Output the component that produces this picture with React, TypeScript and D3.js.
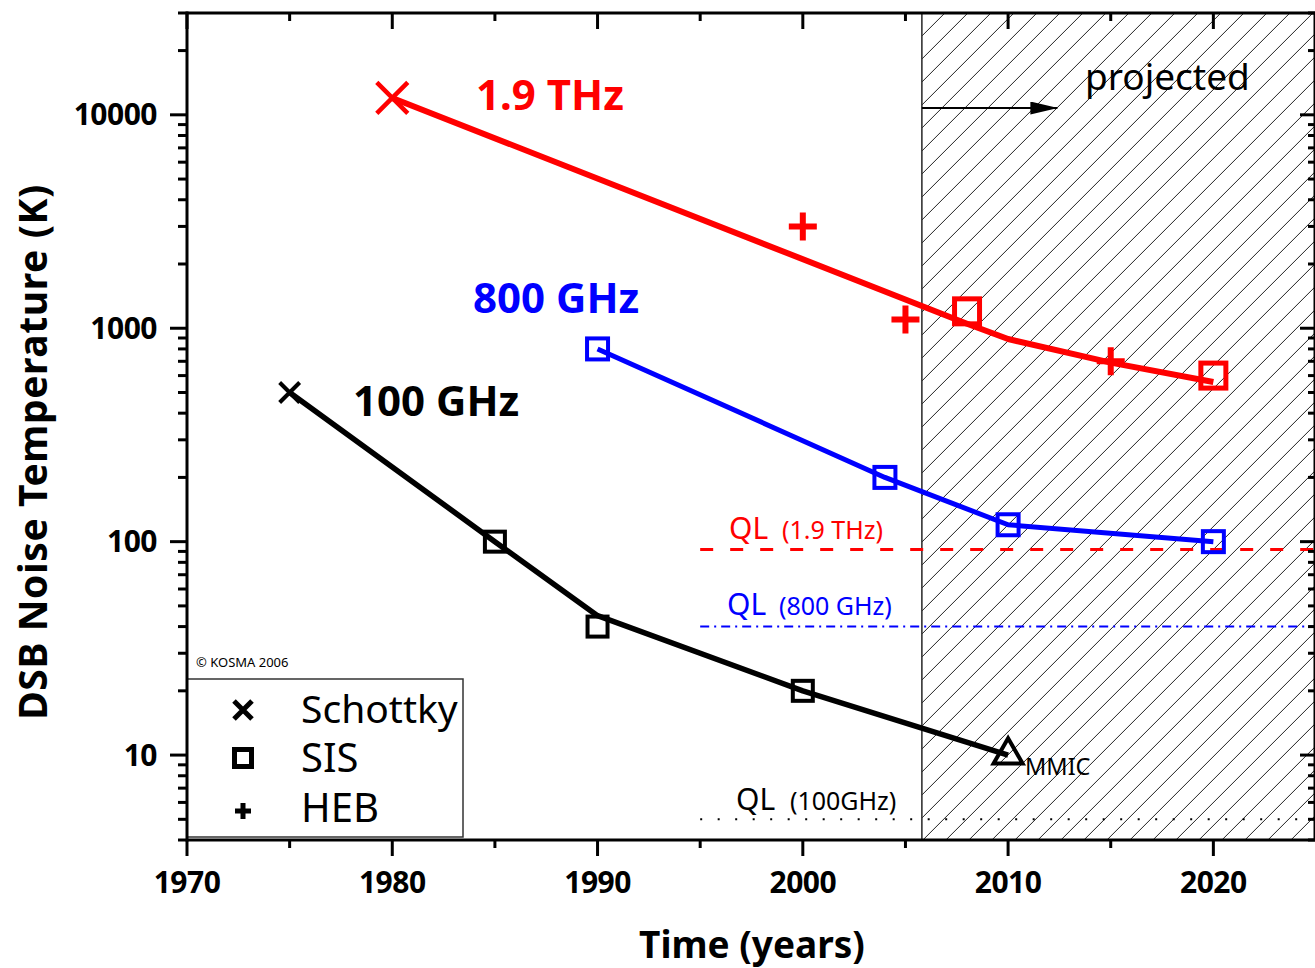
import React from "react";
import * as d3 from "d3";

// ---------- data ----------
const xTickYears = [1970, 1980, 1990, 2000, 2010, 2020];
const xMinorYears = [1975, 1985, 1995, 2005, 2015];
const yTickLabels = [10, 100, 1000, 10000];

// 1.9 THz (red)
const thzLineYears = [1980, 2008, 2010, 2015, 2020];
const thzLineValues = [12000, 1050, 890, 690, 560];
const thzSchottky = [[1980, 12000]];
const thzHEB = [[2000, 3000], [2005, 1100], [2015, 700]];
const thzSIS = [[2008, 1200], [2020, 600]];

// 800 GHz (blue)
const ghz800Years = [1990, 2004, 2010, 2020];
const ghz800Values = [800, 200, 120, 100];

// 100 GHz (black)
const ghz100LineYears = [1975, 1985, 1990, 2000, 2010];
const ghz100LineValues = [500, 100, 45, 20, 10];
const ghz100Schottky = [[1975, 500]];
const ghz100SIS = [[1985, 100], [1990, 40], [2000, 20]];
const ghz100MMIC = [[2010, 10]];

// quantum limits
const qlStartYear = 1995;
const ql19THz = 92;
const ql800GHz = 40;
const ql100GHz = 5;

const projectedYear = 2005.8;

// ---------- layout ----------
const W = 1315;
const H = 968;
const X0 = 187, X1 = 1316, Y0 = 840, Y1 = 13;
const FONT = "'Noto Sans', 'Open Sans', sans-serif";

const x = d3.scaleLinear().domain([1970, 2025]).range([X0, X1]);
const y = d3.scaleLog().domain([4, 30000]).range([Y0, Y1]);

const xPath = (cx: number, cy: number, s: number) =>
  `M${cx - s},${cy - s}L${cx + s},${cy + s}M${cx - s},${cy + s}L${cx + s},${cy - s}`;
const plusPath = (cx: number, cy: number, s: number) =>
  `M${cx - s},${cy}H${cx + s}M${cx},${cy - s}V${cy + s}`;
const triPath = (cx: number, cy: number, s: number) => {
  const h = (s * Math.sqrt(3)) / 2;
  return `M${cx},${cy - (2 * h) / 3}L${cx + s / 2},${cy + h / 3}L${cx - s / 2},${cy + h / 3}Z`;
};

export default function App() {
  const line = d3
    .line<[number, number]>()
    .x((d) => x(d[0]))
    .y((d) => y(d[1]));

  const zip = (a: number[], b: number[]) => a.map((v, i) => [v, b[i]] as [number, number]);

  const yTicks = y.ticks().filter((t) => t >= 4 && t <= 30000);
  const isMajor = (t: number) => Math.abs(Math.log10(t) - Math.round(Math.log10(t))) < 1e-9;

  const xv = x(projectedYear);
  const hatchStep = 23;
  const hatchSpan = Y0 - Y1;
  const hatchStarts = d3.range(xv - hatchSpan, X1 + hatchStep, hatchStep);

  return (
    <svg
      width={W}
      height={H}
      style={{ position: "absolute", left: 0, top: 0, background: "#fff" }}
      fontFamily={FONT}
    >
      <defs>
        <clipPath id="hatchClip">
          <rect x={xv} y={Y1} width={X1 - xv} height={Y0 - Y1} />
        </clipPath>
        <marker id="arrowHead" markerWidth="28" markerHeight="14" refX="27" refY="6.5" orient="auto" markerUnits="userSpaceOnUse">
          <path d="M0,0 L28,6.5 L0,13 Z" fill="#000" />
        </marker>
      </defs>

      <rect x={0} y={0} width={W} height={H} fill="#fff" />

      {/* hatch */}
      <g clipPath="url(#hatchClip)" stroke="#222" strokeWidth={1}>
        {hatchStarts.map((s, i) => (
          <line key={i} x1={s} y1={Y0} x2={s + hatchSpan} y2={Y1} />
        ))}
      </g>
      <line x1={xv} x2={xv} y1={Y1} y2={Y0} stroke="#333" strokeWidth={1.6} />

      {/* projected arrow */}
      <line x1={xv} x2={x(2012.4)} y1={108} y2={108} stroke="#000" strokeWidth={2} markerEnd="url(#arrowHead)" />
      <text x={1085} y={90} fontSize={37} fill="#000">projected</text>

      {/* quantum limit lines */}
      <line x1={x(qlStartYear)} x2={X1} y1={y(ql19THz)} y2={y(ql19THz)} stroke="#ff0000" strokeWidth={3} strokeDasharray="13 17" />
      <line x1={x(qlStartYear)} x2={X1} y1={y(ql800GHz)} y2={y(ql800GHz)} stroke="#0000ff" strokeWidth={2} strokeDasharray="9 5 2 5" />
      <line x1={x(qlStartYear)} x2={X1} y1={y(ql100GHz)} y2={y(ql100GHz)} stroke="#000" strokeWidth={2} strokeDasharray="2 15.5" />

      <text x={729} y={539} fill="#ff0000">
        <tspan fontSize={30}>QL </tspan>
        <tspan fontSize={25} dx={6}>(1.9 THz)</tspan>
      </text>
      <text x={727} y={615} fill="#0000ff">
        <tspan fontSize={30}>QL </tspan>
        <tspan fontSize={25} dx={5}>(800 GHz)</tspan>
      </text>
      <text x={736} y={810} fill="#000">
        <tspan fontSize={30}>QL </tspan>
        <tspan fontSize={25} dx={7}>(100GHz)</tspan>
      </text>

      {/* data lines */}
      <path d={line(zip(thzLineYears, thzLineValues)) || ""} fill="none" stroke="#ff0000" strokeWidth={6} strokeLinejoin="round" />
      <path d={line(zip(ghz800Years, ghz800Values)) || ""} fill="none" stroke="#0000ff" strokeWidth={5} strokeLinejoin="round" />
      <path d={line(zip(ghz100LineYears, ghz100LineValues)) || ""} fill="none" stroke="#000" strokeWidth={5.5} strokeLinejoin="round" />

      {/* markers: red */}
      {thzSchottky.map((d, i) => (
        <path key={"rs" + i} d={xPath(x(d[0]), y(d[1]), 15.5)} stroke="#ff0000" strokeWidth={4.5} fill="none" />
      ))}
      {thzHEB.map((d, i) => (
        <path key={"rh" + i} d={plusPath(x(d[0]), y(d[1]), 14)} stroke="#ff0000" strokeWidth={6} fill="none" />
      ))}
      {thzSIS.map((d, i) => (
        <rect key={"rq" + i} x={x(d[0]) - 12.5} y={y(d[1]) - 12.5} width={25} height={25} stroke="#ff0000" strokeWidth={5} fill="none" />
      ))}
      {/* markers: blue */}
      {ghz800Years.map((yr, i) => (
        <rect key={"bq" + i} x={x(yr) - 10.5} y={y(ghz800Values[i]) - 10.5} width={21} height={21} stroke="#0000ff" strokeWidth={4} fill="none" />
      ))}
      {/* markers: black */}
      {ghz100Schottky.map((d, i) => (
        <path key={"ks" + i} d={xPath(x(d[0]), y(d[1]), 10)} stroke="#000" strokeWidth={4} fill="none" />
      ))}
      {ghz100SIS.map((d, i) => (
        <rect key={"kq" + i} x={x(d[0]) - 10} y={y(d[1]) - 10} width={20} height={20} stroke="#000" strokeWidth={4} fill="none" />
      ))}
      {ghz100MMIC.map((d, i) => (
        <path key={"km" + i} d={triPath(x(d[0]), y(d[1]), 29)} stroke="#000" strokeWidth={4} fill="none" strokeLinejoin="miter" />
      ))}
      <text x={1025} y={775} fontSize={23.5} fill="#000">MMIC</text>

      {/* series labels */}
      <text x={476} y={110} fontSize={42} fontWeight="bold" fill="#ff0000">1.9 THz</text>
      <text x={473} y={313} fontSize={42} fontWeight="bold" fill="#0000ff">800 GHz</text>
      <text x={353} y={416} fontSize={42} fontWeight="bold" fill="#000">100 GHz</text>

      <text x={196} y={667} fontSize={13} fill="#000">© KOSMA 2006</text>

      {/* legend */}
      <rect x={187} y={679} width={276} height={158} fill="#fff" stroke="#333" strokeWidth={1.5} />
      <path d={xPath(243, 710, 9)} stroke="#000" strokeWidth={5} fill="none" />
      <rect x={243 - 8.5} y={758 - 8.5} width={17} height={17} stroke="#000" strokeWidth={5} fill="none" />
      <path d={plusPath(243, 811, 8)} stroke="#000" strokeWidth={5} fill="none" />
      <text x={301} y={723} fontSize={39} fill="#000">Schottky</text>
      <text x={301} y={772} fontSize={40} fill="#000">SIS</text>
      <text x={301} y={822} fontSize={40} fill="#000">HEB</text>

      {/* axes frame */}
      <g stroke="#000" strokeWidth={3}>
        <line x1={X0} x2={X1} y1={Y0} y2={Y0} />
        <line x1={X0} x2={X1} y1={Y1} y2={Y1} />
        <line x1={X0} x2={X0} y1={Y1 - 1.5} y2={Y0 + 1.5} />
        <line x1={X1 - 1} x2={X1 - 1} y1={Y1} y2={Y0} />
      </g>
      {/* x ticks */}
      <g stroke="#000" strokeWidth={3}>
        {xTickYears.map((t) => (
          <g key={"xt" + t}>
            <line x1={x(t)} x2={x(t)} y1={Y0} y2={Y0 + 16} />
            <line x1={x(t)} x2={x(t)} y1={Y1} y2={Y1 + 16} />
          </g>
        ))}
        {xMinorYears.map((t) => (
          <g key={"xm" + t}>
            <line x1={x(t)} x2={x(t)} y1={Y0} y2={Y0 + 8} />
            <line x1={x(t)} x2={x(t)} y1={Y1} y2={Y1 + 8} />
          </g>
        ))}
      </g>
      {xTickYears.map((t) => (
        <text key={"xl" + t} x={x(t)} y={893} fontSize={30} fontWeight="bold" textAnchor="middle" letterSpacing={-0.5}>
          {t}
        </text>
      ))}
      {/* y ticks */}
      <g stroke="#000" strokeWidth={3}>
        {yTicks.map((t, i) => {
          const major = isMajor(t);
          const yy = y(t);
          return (
            <g key={"yt" + i}>
              <line x1={X0 - (major ? 17 : 9)} x2={X0} y1={yy} y2={yy} />
              <line x1={X1 - (major ? 16 : 8)} x2={X1} y1={yy} y2={yy} />
            </g>
          );
        })}
      </g>
      {yTickLabels.map((t) => (
        <text key={"yl" + t} x={157} y={y(t) + 10.5} fontSize={30} fontWeight="bold" textAnchor="end" letterSpacing={-0.5}>
          {t}
        </text>
      ))}

      {/* axis titles */}
      <text x={752} y={958} fontSize={37} fontWeight="bold" textAnchor="middle">
        Time (years)
      </text>
      <text transform="translate(47,452) rotate(-90)" fontSize={39} fontWeight="bold" textAnchor="middle" letterSpacing={0.6}>
        DSB Noise Temperature (K)
      </text>
    </svg>
  );
}
